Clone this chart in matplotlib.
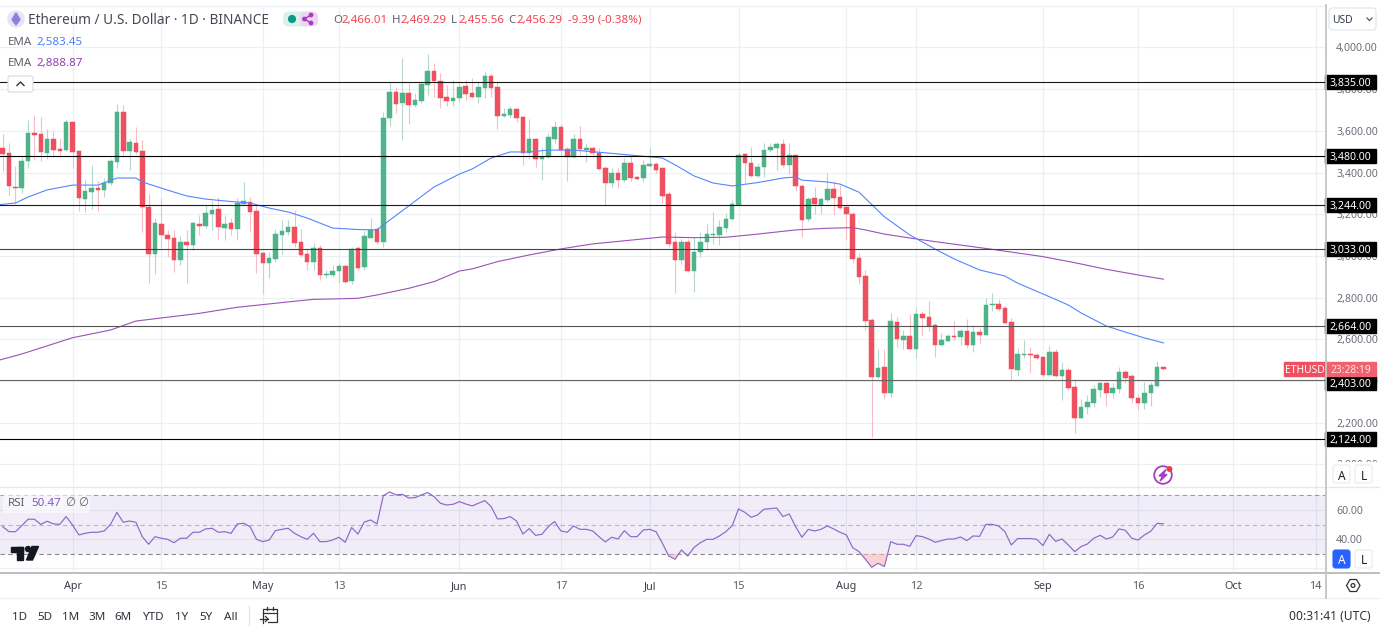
import matplotlib
matplotlib.use("Agg")
import matplotlib.dates as mdates
import matplotlib.pyplot as plt
import numpy as np
import pandas as pd
from matplotlib.patches import Circle, FancyBboxPatch, Polygon, Rectangle
from matplotlib.transforms import blended_transform_factory

plt.rcParams["font.family"] = ["Noto Sans", "DejaVu Sans"]

# daily candles, 21 Mar to 20 Sep
opens = [3517, 3493, 3330, 3328, 3457, 3589, 3585, 3496, 3560, 3512, 3509, 3641, 3504, 3275, 3307, 3325,
         3317, 3350, 3449, 3692, 3505, 3541, 3504, 3235, 3010, 3152, 3099, 3086, 2981, 3066, 3053, 3154,
         3144, 3202, 3226, 3134, 3157, 3128, 3250, 3261, 3216, 3016, 2968, 2986, 3101, 3117, 3141, 3066,
         3010, 2971, 3037, 2909, 2909, 2930, 2952, 2880, 3037, 2946, 3088, 3128, 3069, 3660, 3788, 3736,
         3780, 3724, 3745, 3822, 3889, 3841, 3761, 3745, 3756, 3815, 3780, 3764, 3807, 3865, 3810, 3671,
         3676, 3707, 3667, 3496, 3560, 3467, 3476, 3561, 3620, 3512, 3476, 3560, 3508, 3518, 3496, 3420,
         3348, 3396, 3364, 3448, 3377, 3372, 3432, 3441, 3422, 3296, 3065, 2981, 3069, 2930, 3017, 3065,
         3101, 3099, 3136, 3176, 3243, 3489, 3446, 3385, 3425, 3508, 3518, 3537, 3438, 3483, 3336, 3176,
         3277, 3243, 3269, 3320, 3281, 3235, 3201, 2989, 2905, 2694, 2422, 2468, 2342, 2682, 2598, 2614,
         2555, 2722, 2706, 2670, 2571, 2594, 2617, 2612, 2641, 2574, 2634, 2622, 2767, 2772, 2751, 2682,
         2455, 2527, 2531, 2527, 2516, 2427, 2540, 2423, 2454, 2371, 2224, 2276, 2297, 2358, 2390, 2342,
         2363, 2443, 2425, 2320, 2297, 2343, 2378, 2466.01]
closes = [3489, 3336, 3326, 3456, 3589, 3582, 3497, 3560, 3509, 3504, 3644, 3501, 3277, 3310, 3326, 3317,
          3350, 3456, 3692, 3505, 3545, 3501, 3237, 3010, 3160, 3101, 3082, 2981, 3069, 3053, 3160, 3144,
          3205, 3221, 3139, 3154, 3128, 3256, 3264, 3213, 3010, 2968, 2989, 3106, 3118, 3138, 3063, 3005,
          2973, 3037, 2909, 2914, 2930, 2952, 2877, 3032, 2944, 3096, 3125, 3069, 3660, 3788, 3731, 3780,
          3724, 3748, 3825, 3889, 3840, 3760, 3745, 3758, 3812, 3777, 3764, 3809, 3865, 3807, 3671, 3679,
          3703, 3663, 3496, 3560, 3467, 3476, 3569, 3620, 3508, 3476, 3560, 3512, 3518, 3492, 3417, 3348,
          3396, 3364, 3448, 3372, 3371, 3435, 3441, 3412, 3289, 3057, 2981, 3067, 2930, 3019, 3067, 3104,
          3107, 3139, 3179, 3248, 3484, 3446, 3385, 3427, 3508, 3521, 3537, 3438, 3483, 3336, 3173, 3275,
          3249, 3272, 3320, 3277, 3232, 3201, 2986, 2901, 2686, 2422, 2465, 2342, 2686, 2601, 2614, 2555,
          2722, 2702, 2665, 2571, 2596, 2617, 2612, 2641, 2574, 2634, 2622, 2766, 2772, 2748, 2679, 2459,
          2531, 2530, 2527, 2513, 2427, 2540, 2423, 2451, 2367, 2224, 2278, 2299, 2361, 2390, 2342, 2366,
          2443, 2417, 2318, 2297, 2343, 2379, 2467, 2456.29]
highs = [3585, 3541, 3433, 3477, 3652, 3676, 3665, 3609, 3601, 3565, 3656, 3649, 3510, 3369, 3437, 3360,
         3373, 3464, 3729, 3723, 3560, 3617, 3557, 3298, 3181, 3277, 3125, 3125, 3096, 3125, 3165, 3197,
         3245, 3264, 3285, 3197, 3181, 3277, 3354, 3285, 3250, 3021, 3021, 3128, 3173, 3173, 3221, 3128,
         3037, 3061, 3053, 2933, 2957, 2965, 2957, 3045, 3045, 3120, 3181, 3138, 3692, 3828, 3812, 3948,
         3828, 3780, 3828, 3969, 3924, 3879, 3820, 3844, 3840, 3844, 3852, 3836, 3887, 3876, 3836, 3711,
         3719, 3711, 3671, 3655, 3565, 3524, 3588, 3647, 3631, 3521, 3585, 3623, 3540, 3521, 3516, 3432,
         3420, 3420, 3468, 3484, 3385, 3460, 3516, 3452, 3428, 3308, 3113, 3081, 3080, 3093, 3113, 3153,
         3213, 3173, 3205, 3269, 3500, 3496, 3521, 3444, 3540, 3540, 3548, 3560, 3540, 3484, 3344, 3285,
         3332, 3285, 3400, 3361, 3340, 3240, 3213, 3016, 2933, 2702, 2555, 2553, 2726, 2706, 2646, 2722,
         2750, 2738, 2783, 2678, 2633, 2625, 2686, 2649, 2698, 2665, 2654, 2798, 2821, 2793, 2758, 2702,
         2558, 2598, 2565, 2537, 2521, 2566, 2553, 2491, 2467, 2409, 2315, 2334, 2382, 2398, 2398, 2390,
         2467, 2451, 2435, 2337, 2398, 2398, 2497, 2469.29]
lows = [3410, 3293, 3250, 3301, 3424, 3461, 3457, 3467, 3477, 3477, 3505, 3421, 3218, 3210, 3227, 3218,
        3285, 3340, 3424, 3477, 3413, 3490, 3117, 2869, 2914, 3037, 2997, 2922, 2957, 2872, 3029, 3101,
        3133, 3125, 3080, 3077, 3101, 3077, 3245, 3122, 2920, 2818, 2896, 2973, 3010, 3101, 3045, 2997,
        2933, 2933, 2885, 2895, 2901, 2869, 2869, 2866, 2933, 2933, 3085, 3058, 3045, 3624, 3684, 3557,
        3633, 3716, 3732, 3772, 3764, 3708, 3720, 3720, 3740, 3748, 3756, 3735, 3756, 3764, 3607, 3665,
        3665, 3644, 3436, 3464, 3428, 3364, 3468, 3544, 3476, 3361, 3468, 3484, 3452, 3476, 3412, 3245,
        3332, 3324, 3356, 3361, 3365, 3356, 3428, 3400, 3253, 3045, 2824, 2962, 2923, 2829, 2997, 3029,
        3056, 3053, 3117, 3173, 3243, 3352, 3377, 3377, 3380, 3500, 3412, 3428, 3393, 3313, 3093, 3169,
        3200, 3201, 3261, 3197, 3224, 3080, 2965, 2866, 2645, 2134, 2414, 2316, 2326, 2563, 2555, 2550,
        2511, 2618, 2638, 2515, 2566, 2590, 2598, 2574, 2561, 2539, 2585, 2620, 2738, 2737, 2675, 2403,
        2425, 2510, 2438, 2499, 2422, 2425, 2419, 2307, 2358, 2150, 2222, 2243, 2278, 2326, 2281, 2321,
        2342, 2393, 2294, 2259, 2267, 2281, 2374, 2455.56]

# EMA values read at some of the days, counted from the first candle
ema_fast_idx = [-1, 2, 4, 7, 11, 15, 18, 21, 22, 26, 29, 32, 35, 39, 42, 45, 48, 52, 56, 59, 60, 68, 72, 74,
                77, 80, 83, 86, 90, 95, 99, 104, 106, 109, 112, 115, 119, 123, 125, 126, 130, 132, 135, 139,
                143, 147, 150, 154, 158, 160, 164, 168, 170, 174, 177, 180, 183]
ema_fast = [3245, 3254, 3283, 3317, 3340, 3340, 3374, 3374, 3355, 3316, 3288, 3273, 3264, 3254, 3230, 3211,
            3182, 3134, 3127, 3125, 3149, 3331, 3393, 3417, 3470, 3499, 3499, 3508, 3508, 3495, 3484, 3470,
            3437, 3384, 3350, 3336, 3352, 3374, 3379, 3364, 3355, 3345, 3306, 3188, 3101, 3033, 2986, 2933,
            2904, 2870, 2818, 2765, 2727, 2664, 2635, 2607, 2583.45]
ema_slow_idx = [-1, 3, 11, 17, 21, 31, 37, 46, 49, 52, 56, 59, 64, 68, 72, 74, 78, 83, 88, 93, 98, 104, 109,
                114, 119, 125, 130, 134, 136, 139, 144, 147, 156, 164, 169, 174, 179, 183]
ema_slow = [2497, 2530, 2608, 2645, 2688, 2725, 2754, 2783, 2792, 2794, 2797, 2813, 2845, 2877, 2928, 2938,
            2973, 3005, 3034, 3058, 3073, 3091, 3088, 3090, 3105, 3125, 3133, 3136, 3125, 3105, 3082, 3069,
            3032, 2997, 2968, 2936, 2909, 2888.87]

rsi = [48.5, 45.1, 45.1, 49.2, 53.6, 53.6, 50.1, 52.2, 50.4, 50.1, 55.4, 49.7, 42.9, 44.0, 44.7, 44.7,
       45.6, 50.1, 58.3, 51.5, 52.4, 51.5, 41.7, 36.5, 41.7, 40.6, 39.9, 37.6, 40.6, 40.6, 44.7, 44.7,
       47.0, 47.4, 44.7, 45.1, 44.0, 50.4, 50.8, 48.5, 39.9, 38.3, 39.4, 45.8, 46.7, 47.4, 44.0, 41.7,
       39.9, 44.0, 38.3, 38.3, 39.4, 41.3, 37.9, 47.9, 43.5, 51.7, 53.1, 50.4, 69.7, 72.2, 70.2, 70.6,
       68.1, 68.3, 70.2, 71.8, 69.0, 64.5, 63.3, 63.8, 65.6, 64.0, 62.7, 64.5, 66.3, 62.2, 53.8, 54.0,
       55.4, 52.4, 43.5, 47.2, 42.6, 43.3, 48.5, 52.0, 45.6, 44.7, 49.0, 46.7, 46.7, 45.6, 41.7, 38.1,
       41.3, 40.1, 45.8, 41.7, 41.7, 46.3, 46.7, 45.1, 37.2, 28.5, 26.3, 32.6, 28.5, 34.4, 37.6, 39.9,
       39.9, 42.2, 45.1, 49.2, 60.6, 58.3, 54.9, 56.5, 60.4, 60.8, 61.3, 55.4, 57.2, 48.5, 41.3, 46.7,
       45.6, 46.7, 49.0, 47.0, 44.7, 42.9, 34.2, 31.5, 26.3, 20.8, 23.5, 21.3, 38.3, 36.5, 36.5, 35.1,
       42.4, 41.7, 40.1, 37.9, 39.0, 40.1, 40.1, 41.5, 39.0, 42.2, 41.9, 50.1, 50.1, 49.0, 45.1, 36.0,
       40.4, 40.4, 40.4, 39.9, 35.6, 43.3, 38.5, 40.1, 36.0, 31.5, 34.9, 36.7, 40.6, 42.6, 40.1, 41.5,
       47.0, 46.0, 40.6, 39.4, 42.9, 45.4, 50.8, 50.47]

levels = [3835, 3480, 3244, 3033, 2664, 2403, 2124]
level_labels = ["3,835.00", "3,480.00", "3,244.00", "3,033.00", "2,664.00", "2,403.00", "2,124.00"]
level_colors = ["#161616", "#000000", "#1a1a1a", "#444444", "#555555", "#666666", "#000000"]
level_label_shift = [0, 0, 0, 0, 0, -11, 0]

price_ticks = [2000, 2200, 2400, 2600, 2800, 3000, 3200, 3400, 3600, 3800, 4000]
date_ticks = ["2024-04-01", "2024-04-15", "2024-05-01", "2024-05-13", "2024-06-01", "2024-06-17", "2024-07-01",
              "2024-07-15", "2024-08-01", "2024-08-12", "2024-09-01", "2024-09-16", "2024-10-01", "2024-10-14"]
date_tick_labels = ["Apr", "15", "May", "13", "Jun", "17", "Jul", "15", "Aug", "12", "Sep", "16", "Oct", "14"]
range_buttons = ["1D", "5D", "1M", "3M", "6M", "YTD", "1Y", "5Y", "All"]
range_button_x = [20, 45, 71, 97, 123, 153, 182, 206, 231]

GREEN = "#4fb38a"
RED = "#ef5060"
GREEN_WICK = "#b4d8cf"
RED_WICK = "#f8bcc4"
GRID = "#ebf0f5"
GRAY = "#787b86"
W, H = 1380, 628
PANE_RIGHT = 1325


def pane(fig, top, bottom):
    return fig.add_axes([0, 1 - bottom / H, PANE_RIGHT / W, (bottom - top) / H])


fig = plt.figure(figsize=(W / 100, H / 100), dpi=100, facecolor="white")
ax = pane(fig, 6, 487)
ax_rsi = pane(fig, 487, 572.5)

dates = pd.date_range("2024-03-21", periods=len(opens), freq="D")
x = mdates.date2num(dates)
o, c, h, l = map(np.array, (opens, closes, highs, lows))
colors = np.where(c >= o, GREEN, RED)
wicks = np.where(c >= o, GREEN_WICK, RED_WICK)

ax.vlines(x, l, h, colors=wicks, linewidth=0.8, zorder=2)
ax.bar(x, np.abs(c - o), bottom=np.minimum(o, c), width=0.72, color=colors, edgecolor=colors, linewidth=0.35, zorder=3)
ax.plot(x[0] + np.array(ema_slow_idx), ema_slow, color="#9a52b8", linewidth=0.8, zorder=4)
ax.plot(x[0] + np.array(ema_fast_idx), ema_fast, color="#5585ff", linewidth=0.8, zorder=4)

px_per_day = 6.343
x0 = mdates.date2num(pd.Timestamp("2024-04-01")) - 72.5 / px_per_day
x1 = x0 + PANE_RIGHT / px_per_day
px_per_price = 0.2085
ax.set_xlim(x0, x1)
ax.set_ylim(4000 - (487 - 47.5) / px_per_price, 4000 + (47.5 - 6) / px_per_price)

trans = blended_transform_factory(ax.transAxes, ax.transData)
box_w = 51 / PANE_RIGHT
box_h = 14 / px_per_price
for price, label, col, shift in zip(levels, level_labels, level_colors, level_label_shift):
    ax.axhline(price, color=col, linewidth=0.8, zorder=4.5)
    ax.add_patch(Rectangle((1.0, price + shift - box_h / 2), box_w, box_h, transform=trans, color="black",
                           clip_on=False, zorder=6))
    ax.text(1 + box_w / 2, price + shift, label, transform=trans, color="white", fontsize=7.6, ha="center",
            va="center_baseline", zorder=7)

# last price tag
last = closes[-1]
ax.add_patch(Rectangle((1.0, last - box_h / 2), box_w, box_h, transform=trans, color="#f0626f", clip_on=False, zorder=8))
ax.add_patch(FancyBboxPatch((1 - 41 / PANE_RIGHT, last - box_h / 2), 41 / PANE_RIGHT, box_h, boxstyle="square,pad=0",
                            transform=trans, color=RED, clip_on=False, zorder=8))
ax.text(1 - 20.5 / PANE_RIGHT, last, "ETHUSD", transform=trans, color="white", fontsize=7.4, ha="center",
        va="center_baseline", zorder=9)
ax.text(1 + box_w / 2, last, "23:28:19", transform=trans, color="#fde3e6", fontsize=7.4, ha="center",
        va="center_baseline", zorder=9)

ax.set_yticks(price_ticks, [f"{p:,.2f}" for p in price_ticks])

# RSI pane
ax_rsi.axhspan(30, 70, color="#7e57c2", alpha=0.1, linewidth=0, zorder=1)
for lvl, col in zip([70, 50, 30], ["#9a9aa3", "#b5b5bc", "#8a8a92"]):
    ax_rsi.axhline(lvl, color=col, linewidth=0.8, dashes=(4, 3), zorder=2)
rsi_arr = np.array(rsi)
ax_rsi.fill_between(x, rsi_arr, 30, where=rsi_arr < 30, interpolate=True, color="#f8b4b8", alpha=0.6, linewidth=0, zorder=2)
ax_rsi.plot(x, rsi, color="#8a68c9", linewidth=0.85, zorder=3)
ax_rsi.set_xlim(x0, x1)
ax_rsi.set_ylim(50 - (572.5 - 524.5) / 1.465, 50 + (524.5 - 487) / 1.465)
ax_rsi.set_yticks([20, 40, 60], ["", "40.00", "60.00"])

tick_x = mdates.date2num(pd.to_datetime(date_ticks))
ax.set_xticks(tick_x, [])
ax_rsi.set_xticks(tick_x, date_tick_labels)
for a in (ax, ax_rsi):
    a.set_axisbelow(True)
    a.grid(True, color=GRID, linewidth=0.9)
    a.yaxis.tick_right()
    a.tick_params(length=0)
    a.tick_params(axis="y", pad=8, labelsize=7.6, labelcolor="#6a6d78")
    for s in a.spines.values():
        s.set_visible(False)
ax_rsi.tick_params(axis="x", pad=6, labelsize=7.8, labelcolor="#5a5d68")
for lab, txt in zip(ax_rsi.get_xticklabels(), date_tick_labels):
    if not txt.isdigit():
        lab.set_color("#3c3f4a")
        lab.set_fontweight("medium")

# chrome drawn on a pixel overlay
ui = fig.add_axes([0, 0, 1, 1], facecolor="none")
ui.set_xlim(0, W)
ui.set_ylim(H, 0)
ui.axis("off")
ui.add_patch(Rectangle((1327, 461.5), 53, 25, color="white", zorder=1))
ui.plot([0, 1325], [6, 6], color=GRID, linewidth=0.9)
ui.plot([0, 1380], [487.3, 487.3], color="#e4e7ee", linewidth=0.9)
ui.plot([0, 1380], [572.7, 572.7], color="#bdbdbd", linewidth=1.4)
ui.plot([1325.5, 1325.5], [5, 598], color="#c4c4c4", linewidth=1.3, zorder=5)
ui.plot([0, 1380], [598.3, 598.3], color="#eceef2", linewidth=0.9)

# header
ui.add_patch(Circle((16, 19), 8, color="#e6e4f6", zorder=2))
ui.add_patch(Polygon([[16, 13], [20, 19.5], [16, 25], [12, 19.5]], color="#8f7fe0", zorder=3))
ui.text(28, 19, "Ethereum / U.S. Dollar · 1D · BINANCE", fontsize=9.8, color="#454852", va="center_baseline")
ui.add_patch(FancyBboxPatch((283, 11.5), 27, 15, boxstyle="round,pad=0,rounding_size=6", color="#d9f2ec", linewidth=0))
ui.add_patch(FancyBboxPatch((300, 11.5), 18, 15, boxstyle="round,pad=0,rounding_size=6", color="#edd5f2", linewidth=0))
ui.add_patch(Circle((292, 19), 3.4, color="#0d9b85"))
ui.plot([311, 304.5, 311], [15, 19, 23], color="#a63fbd", linewidth=1.0)
for cx, cy in [(311, 15), (304.5, 19), (311, 23)]:
    ui.add_patch(Circle((cx, cy), 1.7, color="#a63fbd"))

ohlc = [("O", 333, "2,466.01", 341), ("H", 392, "2,469.29", 400), ("L", 451, "2,455.56", 458), ("C", 508, "2,456.29", 516)]
for key, kx, val, vx in ohlc:
    ui.text(kx, 19, key, fontsize=8.3, color="#5d606b", va="center_baseline")
    ui.text(vx, 19, val, fontsize=8.3, color="#f0444f", va="center_baseline")
ui.text(568, 19, "-9.39 (-0.38%)", fontsize=8.3, color="#f0444f", va="center_baseline")

ui.text(8, 41, "EMA", fontsize=8.3, color="#5d606b", va="center_baseline")
ui.text(36, 41, "2,583.45", fontsize=8.3, color="#4a7dff", va="center_baseline")
ui.text(8, 62, "EMA", fontsize=8.3, color="#5d606b", va="center_baseline")
ui.text(36, 62, "2,888.87", fontsize=8.3, color="#9040b0", va="center_baseline")
ui.add_patch(FancyBboxPatch((8, 76), 25, 16, boxstyle="round,pad=0,rounding_size=2", facecolor="white", edgecolor="#d9dbe0", linewidth=0.8, zorder=5))
ui.plot([17, 20.5, 24], [85.5, 82, 85.5], color="#333333", linewidth=1.0, zorder=6)

# currency selector
ui.add_patch(FancyBboxPatch((1329, 8), 47, 22, boxstyle="round,pad=0,rounding_size=3", facecolor="white", edgecolor="#e2e4ea", linewidth=0.8))
ui.text(1332, 19, "USD", fontsize=7.4, color="#333a4a", va="center_baseline")
ui.plot([1367, 1369.5, 1372], [18, 20.5, 18], color="#555555", linewidth=0.9)

# scale buttons
for by, active in [(465, False), (550, True)]:
    ui.add_patch(FancyBboxPatch((1333, by), 17, 18, boxstyle="round,pad=0,rounding_size=2.5",
                                facecolor="#2962ff" if active else "white", edgecolor="#2962ff" if active else "#e8eaf0", linewidth=0.8, zorder=5))
    ui.add_patch(FancyBboxPatch((1355, by), 17, 18, boxstyle="round,pad=0,rounding_size=2.5",
                                facecolor="white", edgecolor="#e8eaf0", linewidth=0.8, zorder=5))
    ui.text(1341.5, by + 9.5, "A", fontsize=8.6, color="white" if active else "#222222", ha="center", va="center_baseline", zorder=6)
    ui.text(1363.5, by + 9.5, "L", fontsize=8.6, color="#222222", ha="center", va="center_baseline", zorder=6)

# flash icon
ui.add_patch(Circle((1163, 475), 8.8, facecolor="white", edgecolor="#a63fbd", linewidth=1.3, zorder=5))
ui.add_patch(Polygon([[1166, 469.5], [1159, 476], [1162.8, 476], [1160, 481], [1167, 474.5], [1163.2, 474.5]], color="#a63fbd", zorder=6))
ui.add_patch(Circle((1169.5, 469), 2.2, color="#f23645", zorder=7))

# RSI legend
ui.add_patch(Rectangle((3, 494), 87, 19, color="white", alpha=0.55, linewidth=0, zorder=5))
ui.text(8, 502.5, "RSI", fontsize=8.3, color="#5d606b", va="center_baseline", zorder=6)
ui.text(31, 502.5, "50.47", fontsize=8.3, color="#7e57c2", va="center_baseline", zorder=6)
ui.text(65, 502.5, "∅", fontsize=8.3, color="#5d606b", va="center_baseline", zorder=6)
ui.text(78, 502.5, "∅", fontsize=8.3, color="#5d606b", va="center_baseline", zorder=6)

# TradingView mark
ui.add_patch(Rectangle((10.5, 546.5), 12.5, 5, color="#131722", zorder=6))
ui.add_patch(Rectangle((17, 546.5), 6, 13.5, color="#131722", zorder=6))
ui.add_patch(Circle((28, 549), 2.5, color="#131722", zorder=6))
ui.add_patch(Polygon([[32, 546.5], [38.5, 546.5], [32.5, 560], [26.5, 560]], color="#131722", zorder=6))

# settings hexagon
ui.add_patch(Polygon([[1346.5, 585.5], [1350, 579.5], [1356.5, 579.5], [1360, 585.5], [1356.5, 591.5], [1350, 591.5]],
                     closed=True, fill=False, edgecolor="#333333", linewidth=0.9))
ui.add_patch(Circle((1353, 585.5), 1.9, fill=False, edgecolor="#333333", linewidth=0.9))

# bottom bar
for label, bx in zip(range_buttons, range_button_x):
    ui.text(bx, 615.5, label, fontsize=8.4, color="#2f323c", ha="center", va="center_baseline")
ui.plot([248.5, 248.5], [606, 625], color="#e0e3eb", linewidth=0.9)
ui.plot([263, 263, 277, 277, 268], [623, 609, 609, 622, 622], color="#333333", linewidth=0.9)
ui.plot([263, 277], [613, 613], color="#333333", linewidth=0.9)
ui.plot([267, 267], [607, 610], color="#333333", linewidth=0.9)
ui.plot([273, 273], [607, 610], color="#333333", linewidth=0.9)
ui.plot([260, 268], [619, 619], color="#333333", linewidth=0.9)
ui.plot([265.5, 268, 265.5], [616.5, 619, 621.5], color="#333333", linewidth=0.9)
ui.text(1371, 615.5, "00:31:41 (UTC)", fontsize=8.7, color="#2f323c", ha="right", va="center_baseline")

fig.savefig("out.png", dpi=100)
plt.close(fig)
